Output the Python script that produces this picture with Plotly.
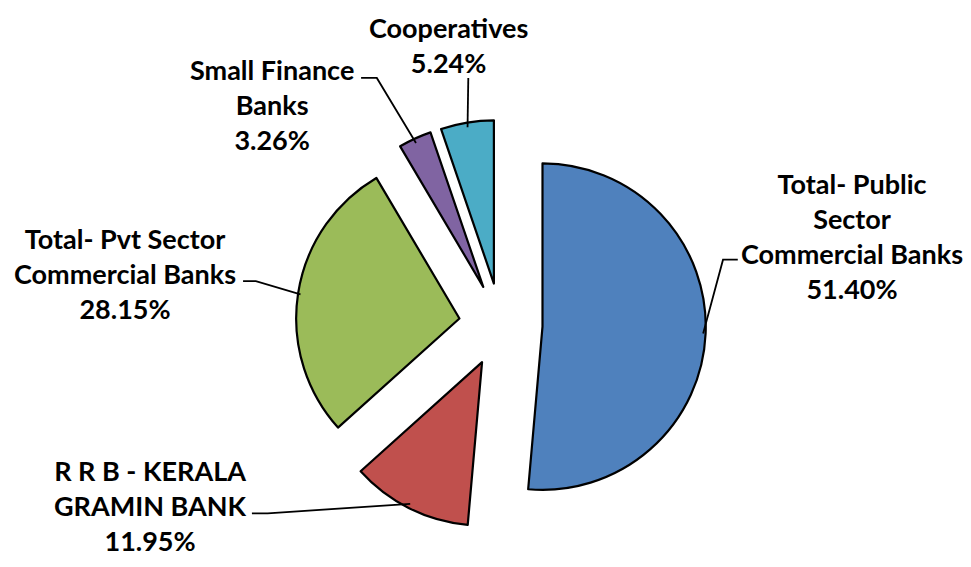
import math
import plotly.graph_objects as go

# ---- data ----
categories = [
    "Total- Public Sector Commercial Banks",
    "R R B - KERALA GRAMIN BANK",
    "Total- Pvt Sector Commercial Banks",
    "Small Finance Banks",
    "Cooperatives",
]
label_texts = [
    "Total- Public<br>Sector<br>Commercial Banks",
    "R R B - KERALA<br>GRAMIN BANK",
    "Total- Pvt Sector<br>Commercial Banks",
    "Small Finance<br>Banks",
    "Cooperatives",
]
shares = [51.40, 11.95, 28.15, 3.26, 5.24]
colors = ["#4F81BD", "#C0504D", "#9BBB59", "#8064A2", "#4BACC6"]

# ---- layout constants (pixels) ----
W, H = 971, 567
CX, CY = 501, 326        # pie centre
PULL = 0.256
R = 164                  # rendered slice radius
HALF = (R + 4) * (1 + PULL)

# label centres and leader-line paths (elbow, end) in pixels
label_pos = [(858, 235), (145, 512), (119, 273), (268, 99), (448, 38)]
leader_pts = [
    [(727, 259), (742, 259)],
    [(264, 520), (248, 520)],
    [(252, 281), (239, 281)],
    [(375, 72), (359, 72)],
    [(468, 72)],
]

def px(x):
    return x / W

def py(y):
    return 1 - y / H

fig = go.Figure(go.Pie(
    labels=categories,
    values=shares,
    sort=False,
    direction="clockwise",
    rotation=0,
    pull=[PULL] * len(shares),
    marker=dict(colors=colors, line=dict(color="#000000", width=2.2)),
    textinfo="none",
    hoverinfo="label+percent",
    domain=dict(x=[px(CX - HALF), px(CX + HALF)], y=[py(CY + HALF), py(CY - HALF)]),
))

total = sum(shares)
cum = 0.0
shapes = []
annotations = []
for i, v in enumerate(shares):
    mid = (cum + v / 2) / total * 2 * math.pi
    cum += v
    ax = CX + R * (1 + PULL) * math.sin(mid)
    ay = CY - R * (1 + PULL) * math.cos(mid)
    pts = [(ax, ay)] + leader_pts[i]
    path = "M " + " L ".join(f"{px(x):.5f},{py(y):.5f}" for x, y in pts)
    shapes.append(dict(type="path", xref="paper", yref="paper", path=path,
                       line=dict(color="#000000", width=1.8)))
    lx, ly = label_pos[i]
    annotations.append(dict(
        x=px(lx), y=py(ly), xref="paper", yref="paper",
        text=f"{label_texts[i]}<br>{v:.2f}%",
        showarrow=False, xanchor="center", yanchor="middle", align="center",
        font=dict(family="Lato", size=27, color="#000000", weight="bold"),
    ))

fig.update_layout(
    showlegend=False,
    margin=dict(l=0, r=0, t=0, b=0),
    paper_bgcolor="#FFFFFF",
    plot_bgcolor="#FFFFFF",
    shapes=shapes,
    annotations=annotations,
)

fig.write_html("out.html")
